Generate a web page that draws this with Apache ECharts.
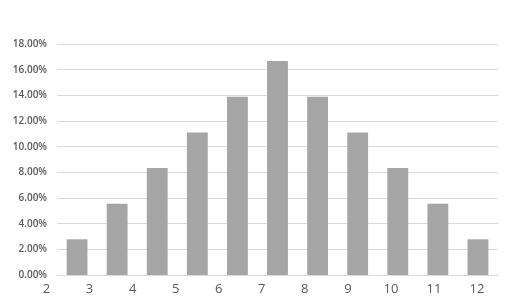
<!DOCTYPE html>
<html><head><meta charset="utf-8">
<script src="https://cdn.jsdelivr.net/npm/echarts@6/dist/echarts.min.js"></script>
<style>html,body{margin:0;padding:0;background:#fff}#c{width:511px;height:308px}</style>
</head><body><div id="c"></div>
<script>
const categories = ['2','3','4','5','6','7','8','9','10','11','12'];
const values = [2.78, 5.56, 8.33, 11.11, 13.89, 16.67, 13.89, 11.11, 8.33, 5.56, 2.78];
const xTickMin = 2, xTickMax = 12;
const chart = echarts.init(document.getElementById('c'));
chart.setOption({
  animation: false,
  grid: [
    {left: 57, right: 13, top: 44, bottom: 33},
    {left: 46.5, right: 34, top: 44, bottom: 33}
  ],
  xAxis: [
    {type: 'category', data: categories, gridIndex: 0,
     axisLine: {lineStyle: {color: '#d9d9d9'}}, axisTick: {show: false}, axisLabel: {show: false}},
    {type: 'value', gridIndex: 1, min: xTickMin, max: xTickMax, interval: 1,
     axisLine: {show: false}, axisTick: {show: false}, splitLine: {show: false},
     axisLabel: {margin: 8, fontFamily: 'Open Sans', fontSize: 13, color: '#595959'}}
  ],
  yAxis: [
    {type: 'value', gridIndex: 0, min: 0, max: 18, interval: 2,
     axisLine: {show: false}, axisTick: {show: false},
     splitLine: {lineStyle: {color: '#d9d9d9'}},
     axisLabel: {margin: 10, fontFamily: 'Open Sans', fontSize: 10, fontWeight: 600, color: '#595959',
       formatter: v => v.toFixed(2) + '%'}},
    {type: 'value', gridIndex: 1, show: false}
  ],
  series: [{
    type: 'bar', xAxisIndex: 0, yAxisIndex: 0, data: values,
    barCategoryGap: '48%', itemStyle: {color: '#a5a5a5'}
  }]
});
</script></body></html>
